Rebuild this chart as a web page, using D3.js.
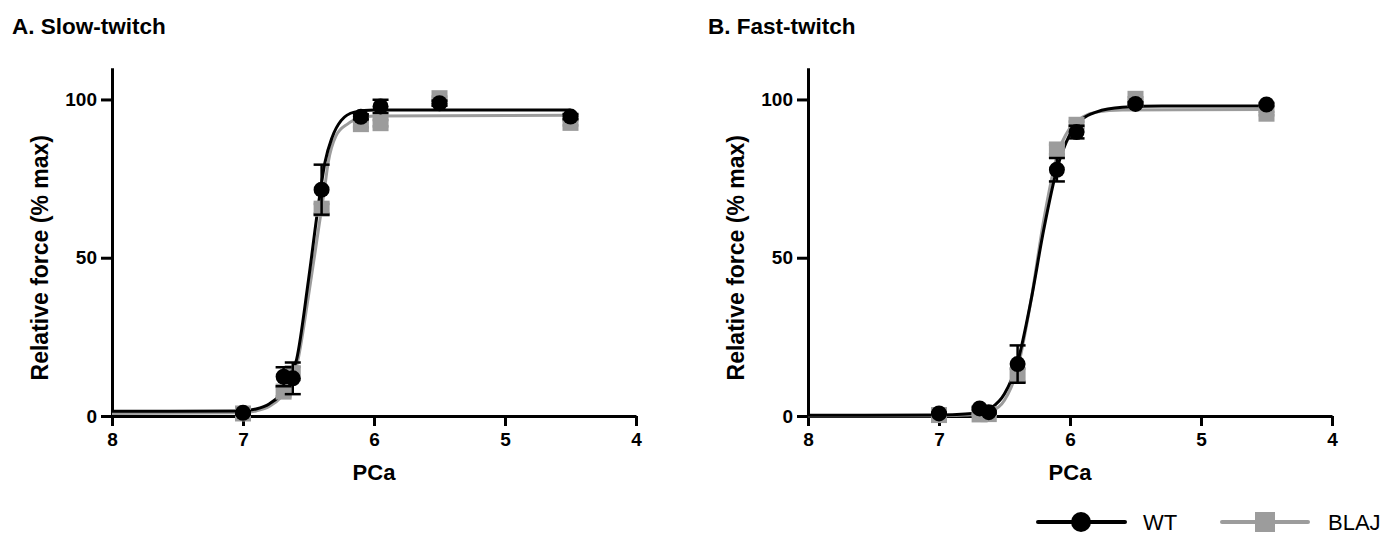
<!DOCTYPE html>
<html>
<head>
<meta charset="utf-8">
<script src="https://cdn.jsdelivr.net/npm/d3@7"></script>
<style>
  body { margin: 0; background: #fff; }
  svg { display: block; font-family: "Liberation Sans", Arial, Helvetica, sans-serif; }
</style>
</head>
<body>
<svg id="chart" width="1386" height="534"></svg>
<script>
// pCa levels used for the measurements
const pCaLevels = [7.0, 6.69, 6.62, 6.4, 6.1, 5.95, 5.5, 4.5];

// slow-twitch means and SEM (% max)
const slowWT = [1.0, 12.4, 11.9, 71.5, 94.5, 97.8, 98.8, 94.6];
const slowWTerr = [0.5, 3.0, 5.0, 7.9, 0.8, 2.1, 0.8, 0.8];
const slowBLAJ = [0.8, 7.7, 13.5, 65.5, 92.2, 92.5, 100.4, 92.6];
const slowBLAJerr = [0.3, 1.5, 2.0, 1.5, 1.0, 1.0, 0.5, 0.8];

// fast-twitch means and SEM
const fastWT = [0.8, 2.4, 1.2, 16.4, 77.8, 89.7, 98.6, 98.4];
const fastWTerr = [0.3, 0.5, 0.4, 5.9, 3.7, 2.0, 0.5, 0.5];
const fastBLAJ = [0.3, 0.5, 0.6, 12.9, 84.2, 92.0, 100.2, 95.5];
const fastBLAJerr = [0.2, 0.3, 0.3, 2.0, 1.5, 1.0, 0.5, 0.5];

// fitted curves as [pCa, %]
const slowWTfit = [[8.0, 1.5], [7.0, 1.6], [6.9, 2.2], [6.8, 3.8], [6.72, 6.5], [6.65, 11], [6.59, 18],
  [6.5, 43], [6.42, 68], [6.375, 80], [6.32, 88], [6.25, 93.4], [6.15, 96], [6.0, 96.7], [4.5, 96.7]];
const slowBLAJfit = [[8.0, 0.8], [7.0, 1.0], [6.9, 1.6], [6.8, 3.0], [6.72, 5.5], [6.65, 10], [6.59, 16],
  [6.5, 38], [6.42, 60], [6.38, 71], [6.35, 80], [6.29, 88.5], [6.2, 92.3], [6.1, 94.2], [6.0, 94.8], [4.5, 95]];
const fastWTfit = [[8.0, 0.2], [7.0, 0.3], [6.8, 0.6], [6.7, 1.2], [6.6, 2.6], [6.5, 7], [6.4, 17], [6.3, 36],
  [6.2, 59], [6.1, 78], [6.0, 89], [5.9, 94], [5.8, 96], [5.6, 97.5], [5.3, 97.9], [4.5, 97.9]];
const fastBLAJfit = [[8.0, 0.1], [7.0, 0.1], [6.8, 0.3], [6.7, 0.6], [6.6, 1.5], [6.5, 5], [6.4, 15], [6.3, 36],
  [6.2, 62], [6.1, 82], [6.0, 91], [5.9, 94.5], [5.8, 96], [5.6, 96.7], [4.5, 96.8]];

const xTicks = [8, 7, 6, 5, 4];
const yTicks = [0, 50, 100];

const panels = [
  { title: 'A. Slow-twitch', left: 112, titleX: 12, wt: slowWT, wtErr: slowWTerr, blaj: slowBLAJ, blajErr: slowBLAJerr, wtFit: slowWTfit, blajFit: slowBLAJfit },
  { title: 'B. Fast-twitch', left: 808, titleX: 708, wt: fastWT, wtErr: fastWTerr, blaj: fastBLAJ, blajErr: fastBLAJerr, wtFit: fastWTfit, blajFit: fastBLAJfit }
];

const GRAY = '#9c9c9c';
const svg = d3.select('#chart');

const y = d3.scaleLinear().domain([0, 110]).range([416, 67.8]);

panels.forEach(p => {
  const x = d3.scaleLinear().domain([8, 4]).range([p.left, p.left + 524]);
  const g = svg.append('g');

  g.append('text')
    .attr('x', p.titleX).attr('y', 34)
    .attr('font-size', 22.5).attr('font-weight', 'bold')
    .text(p.title);

  // axes
  const xAxis = g.append('g')
    .attr('transform', `translate(0,${y(0)})`)
    .call(d3.axisBottom(x).tickValues(xTicks).tickFormat(d3.format('d')).tickSize(10).tickPadding(7).tickSizeOuter(0));
  const yAxis = g.append('g')
    .attr('transform', `translate(${p.left},0)`)
    .call(d3.axisLeft(y).tickValues(yTicks).tickSize(11).tickPadding(4).tickSizeOuter(0));
  [xAxis, yAxis].forEach(a => {
    a.select('.domain').attr('stroke', '#000').attr('stroke-width', 3);
    a.selectAll('.tick line').attr('stroke', '#000').attr('stroke-width', 3);
    a.selectAll('.tick text').attr('fill', '#000')
      .attr('font-size', 19).attr('font-weight', 'bold')
      .attr('font-family', '"Liberation Sans", Arial, sans-serif');
  });

  g.append('text')
    .attr('x', p.left + 262).attr('y', 480)
    .attr('text-anchor', 'middle')
    .attr('font-size', 22).attr('font-weight', 'bold')
    .text('PCa');

  g.append('text')
    .attr('transform', `translate(${p.left - 64},${y(50)}) rotate(-90)`)
    .attr('text-anchor', 'middle')
    .attr('font-size', 23).attr('font-weight', 'bold')
    .text('Relative force (% max)');

  const line = d3.line()
    .x(d => x(d[0]))
    .y(d => y(d[1]))
    .curve(d3.curveMonotoneX);

  const series = [
    { vals: p.blaj, err: p.blajErr, fit: p.blajFit, color: GRAY, shape: 'square' },
    { vals: p.wt, err: p.wtErr, fit: p.wtFit, color: '#000', shape: 'circle' }
  ];

  // fit lines first, gray under black
  series.forEach(s => {
    g.append('path')
      .datum(s.fit)
      .attr('d', line)
      .attr('fill', 'none')
      .attr('stroke', s.color)
      .attr('stroke-width', 3);
  });

  series.forEach(s => {
    const pts = pCaLevels.map((c, i) => ({ c, v: s.vals[i], e: s.err[i] }));
    const eb = g.append('g').attr('stroke', s.color).attr('stroke-width', 2.5);
    pts.forEach(d => {
      eb.append('line')
        .attr('x1', x(d.c)).attr('x2', x(d.c))
        .attr('y1', y(d.v - d.e)).attr('y2', y(d.v + d.e));
      [d.v - d.e, d.v + d.e].forEach(v => {
        eb.append('line')
          .attr('x1', x(d.c) - 8).attr('x2', x(d.c) + 8)
          .attr('y1', y(v)).attr('y2', y(v));
      });
    });
    if (s.shape === 'circle') {
      g.selectAll(null).data(pts).enter().append('circle')
        .attr('cx', d => x(d.c)).attr('cy', d => y(d.v))
        .attr('r', 8).attr('fill', '#000');
    } else {
      g.selectAll(null).data(pts).enter().append('rect')
        .attr('x', d => x(d.c) - 8).attr('y', d => y(d.v) - 8)
        .attr('width', 16).attr('height', 16).attr('fill', GRAY);
    }
  });
});

// legend
const legend = svg.append('g').attr('transform', 'translate(0,522)');
legend.append('line').attr('x1', 1038).attr('x2', 1125).attr('stroke', '#000')
  .attr('stroke-width', 4).attr('stroke-linecap', 'round');
legend.append('circle').attr('cx', 1081).attr('cy', 0).attr('r', 10).attr('fill', '#000');
legend.append('text').attr('x', 1143).attr('y', 8).attr('font-size', 22).text('WT');
legend.append('line').attr('x1', 1222).attr('x2', 1308).attr('stroke', GRAY)
  .attr('stroke-width', 4).attr('stroke-linecap', 'round');
legend.append('rect').attr('x', 1255).attr('y', -10).attr('width', 20).attr('height', 20).attr('fill', GRAY);
legend.append('text').attr('x', 1328).attr('y', 8).attr('font-size', 22).text('BLAJ');
</script>
</body>
</html>
